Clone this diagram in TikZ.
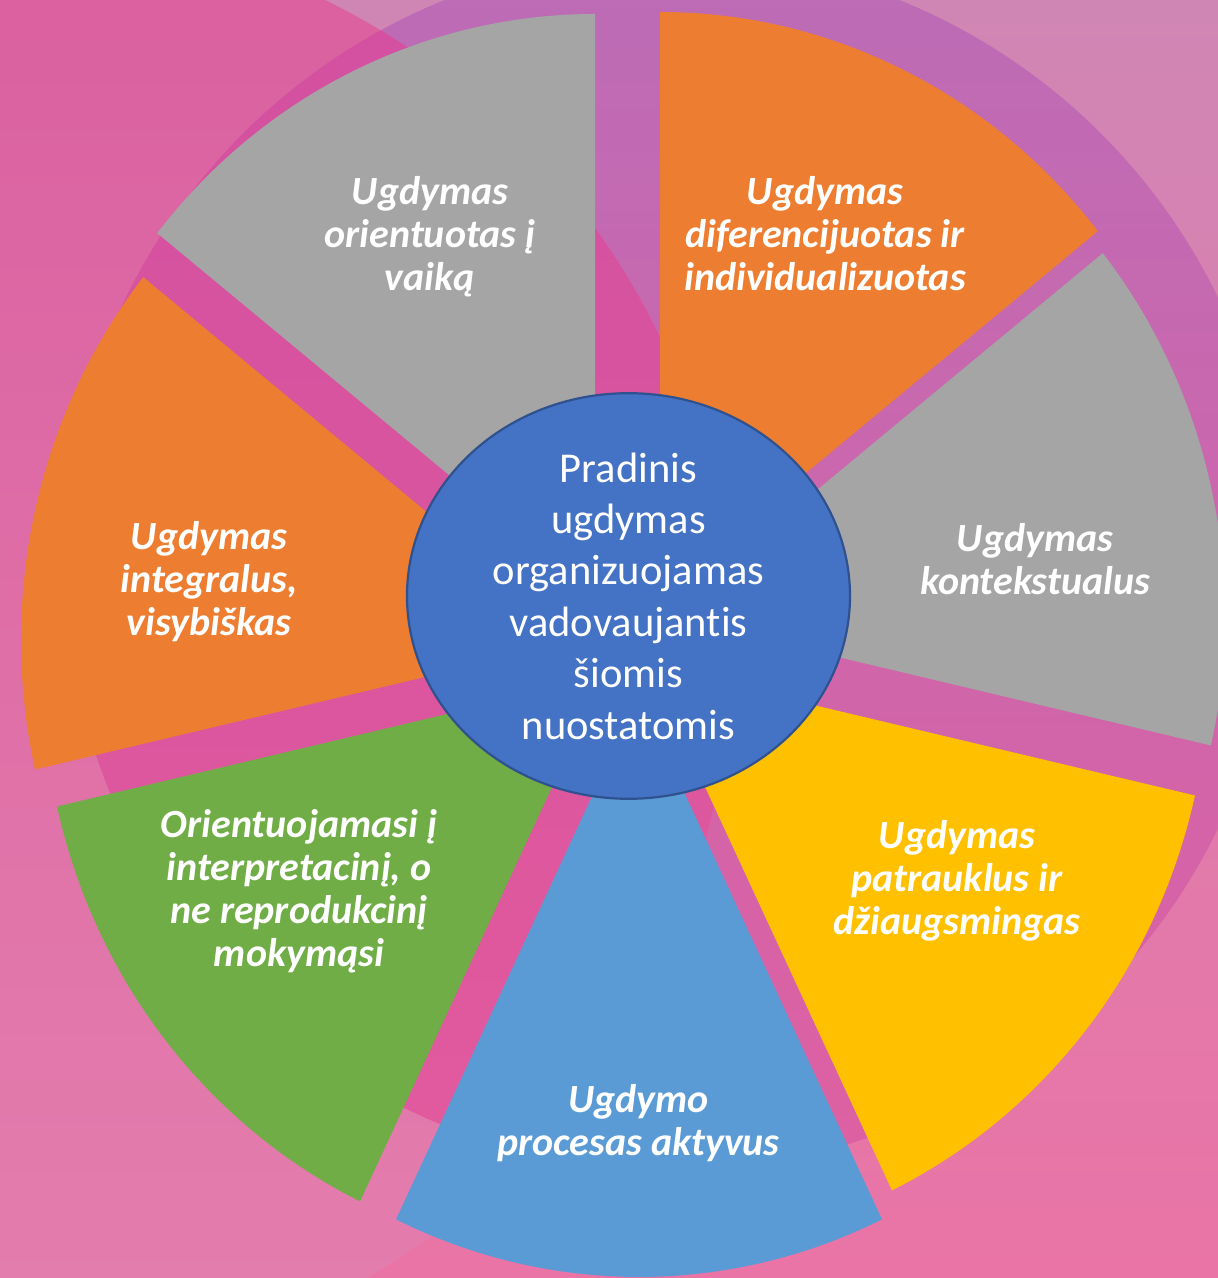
\documentclass[tikz,border=0pt]{standalone}
\usepackage{fontspec}
\setmainfont{Carlito}[Ligatures=NoCommon]
\usetikzlibrary{shapes.geometric}
\definecolor{baseTop}{HTML}{D086B4}
\definecolor{baseBot}{HTML}{EA74A6}
\definecolor{dTop}{HTML}{BC6CB6}
\definecolor{dBot}{HTML}{DE60A2}
\definecolor{lTop}{HTML}{DA5FA0}
\definecolor{lBot}{HTML}{E47FAE}
\definecolor{ldTop}{HTML}{D250A0}
\definecolor{ldBot}{HTML}{E25A9E}
\definecolor{cGray}{HTML}{A5A5A5}
\definecolor{cOrange}{HTML}{ED7D31}
\definecolor{cYellow}{HTML}{FFC000}
\definecolor{cGreen}{HTML}{70AD47}
\definecolor{cBlue}{HTML}{5B9BD5}
\definecolor{hubFill}{HTML}{4472C4}
\definecolor{hubLine}{HTML}{2F528F}
\begin{document}
\begin{tikzpicture}[x=1pt,y=1pt,
  wedge/.style={x radius=560, y radius=582},
  lbl/.style={text=white, font=\fontsize{40}{43}\selectfont\bfseries\itshape,
    align=center, inner sep=0pt},
  hub/.style={ellipse, fill=hubFill, draw=hubLine, line width=2.2pt,
    minimum width=443pt, minimum height=400pt, inner sep=0pt,
    text=white, align=center, font=\fontsize{42.5}{51.4}\selectfont}]
\useasboundingbox (0,0) rectangle (1218,1278);
% background
\begin{scope}
  \clip (0,0) rectangle (1218,1278);
  \shade[top color=baseTop, bottom color=baseBot] (0,0) rectangle (1218,1278);
  \shade[top color=dTop, bottom color=dBot] (672,715) circle[radius=607];
  \shade[top color=lTop, bottom color=lBot] (8,628) circle[radius=723];
  \begin{scope}
    \clip (8,628) circle[radius=723];
    \shade[top color=ldTop, bottom color=ldBot] (672,715) circle[radius=607];
  \end{scope}
\end{scope}
% sectors
\fill[cGray]   (595,682) -- +(90:560 and 582)       arc[wedge, start angle=90,        end angle=141.4286] -- cycle;
\fill[cOrange] (660,684) -- +(38.5714:560 and 582)  arc[wedge, start angle=38.5714,   end angle=90] -- cycle;
\fill[cGray]   (665,662) -- +(-12.8571:560 and 582) arc[wedge, start angle=-12.8571,  end angle=38.5714] -- cycle;
\fill[cYellow] (649,612) -- +(-64.2857:560 and 582) arc[wedge, start angle=-64.2857,  end angle=-12.8571] -- cycle;
\fill[cBlue]   (639,583) -- +(-115.7143:560 and 582) arc[wedge, start angle=-115.7143, end angle=-64.2857] -- cycle;
\fill[cGreen]  (603,601) -- +(-167.1429:560 and 582) arc[wedge, start angle=-167.1429, end angle=-115.7143] -- cycle;
\fill[cOrange] (581,638) -- +(141.4286:560 and 582) arc[wedge, start angle=141.4286,  end angle=192.8571] -- cycle;
% labels
\node[lbl] (s1) at (430,1041) {Ugdymas\\orientuotas į\\vaiką};
\node[lbl] (s2) at (825,1044) {Ugdymas\\diferencijuotas ir\\individualizuotas};
\node[lbl] (s3) at (1035,718.5) {Ugdymas\\kontekstualus};
\node[lbl] (s4) at (957,397) {Ugdymas\\patrauklus ir\\džiaugsmingas};
\node[lbl] (s5) at (638.5,155) {Ugdymo\\procesas aktyvus};
\node[lbl] (s6) at (299,387) {Orientuojamasi į\\interpretacinį, o\\ne reprodukcinį\\mokymąsi};
\node[lbl] (s7) at (209,696) {Ugdymas\\integralus,\\visybiškas};
% hub
\node[hub] (hub) at (628.5,682) {Pradinis\\ugdymas\\organizuojamas\\vadovaujantis\\šiomis\\nuostatomis};
\end{tikzpicture}
\end{document}
